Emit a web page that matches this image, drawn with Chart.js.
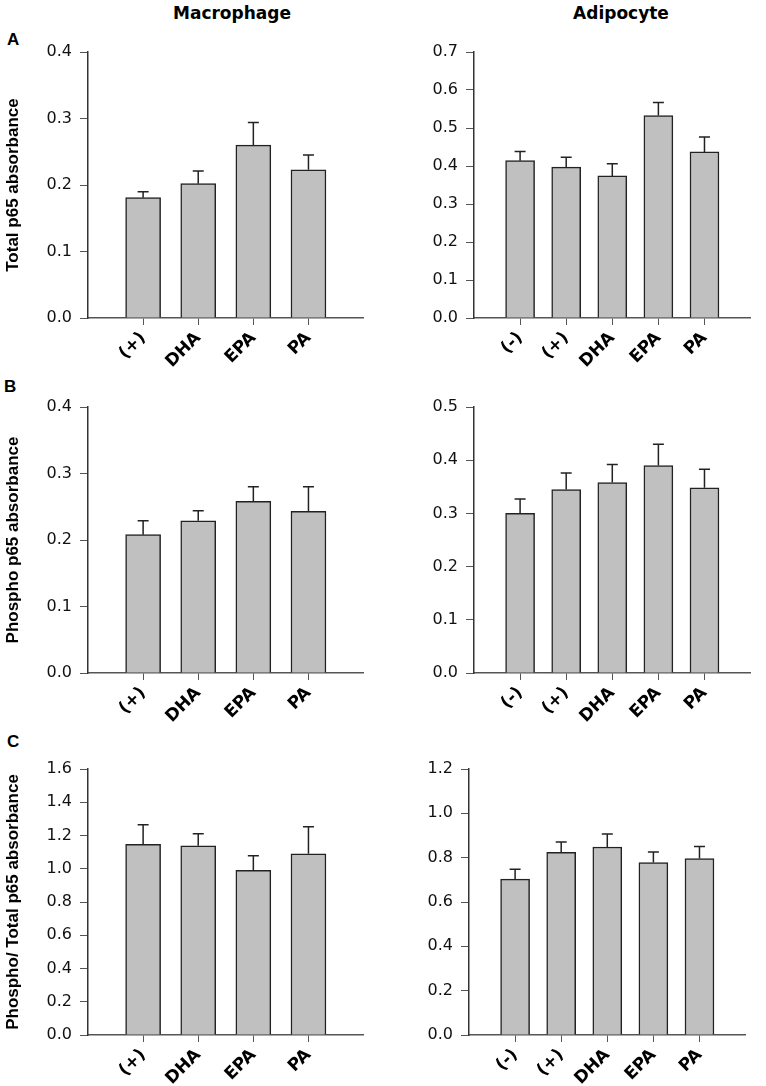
<!DOCTYPE html>
<html>
<head>
<meta charset="utf-8">
<script src="https://cdn.jsdelivr.net/npm/chart.js@4"></script>
<style>
  html, body { margin: 0; padding: 0; background: #fff; overflow: hidden; }
  body { position: relative; width: 766px; height: 1086px; }
  canvas { position: absolute; }
  .lbl { position: absolute; font-weight: bold; line-height: 17px; color: #000; white-space: nowrap; }
  .col { font-family: "DejaVu Sans"; font-size: 17px; width: 300px; text-align: center; }
  .let { font-family: "Liberation Sans"; font-size: 17px; }
</style>
</head>
<body>
<div class="lbl col" style="left:82px;top:5px;">Macrophage</div>
<div class="lbl col" style="left:471px;top:5px;">Adipocyte</div>
<div class="lbl let" style="left:7px;top:31px;">A</div>
<div class="lbl let" style="left:4px;top:378px;">B</div>
<div class="lbl let" style="left:7px;top:733px;">C</div>
<script>
// categories
const macCats = ['(+)', 'DHA', 'EPA', 'PA'];
const adiCats = ['(-)', '(+)', 'DHA', 'EPA', 'PA'];

// A: total p65
const macTotal = [0.181, 0.202, 0.260, 0.223];
const macTotalSem = [0.009, 0.019, 0.034, 0.022];
const adiTotal = [0.414, 0.397, 0.374, 0.533, 0.437];
const adiTotalSem = [0.024, 0.026, 0.032, 0.034, 0.039];

// B: phospho p65
const macPhospho = [0.208, 0.229, 0.258, 0.243];
const macPhosphoSem = [0.021, 0.015, 0.022, 0.037];
const adiPhospho = [0.300, 0.345, 0.358, 0.390, 0.348];
const adiPhosphoSem = [0.027, 0.031, 0.034, 0.040, 0.035];

// C: phospho / total
const macRatio = [1.147, 1.138, 0.990, 1.090];
const macRatioSem = [0.118, 0.072, 0.088, 0.163];
const adiRatio = [0.703, 0.824, 0.848, 0.778, 0.796];
const adiRatioSem = [0.045, 0.047, 0.059, 0.048, 0.054];

// y axis ranges
const yMaxA = [0.4, 0.7], yStepA = [0.1, 0.1];
const yMaxB = [0.4, 0.5], yStepB = [0.1, 0.1];
const yMaxC = [1.6, 1.2], yStepC = [0.2, 0.2];

const errorBars = {
  id: 'errorBars',
  afterDatasetsDraw(chart, args, opts) {
    const ctx = chart.ctx;
    const y = chart.scales.y;
    chart.data.datasets.forEach((ds, di) => {
      const meta = chart.getDatasetMeta(di);
      meta.data.forEach((bar, i) => {
        const m = ds.data[i];
        if (m == null) return;
        const top = y.getPixelForValue(m + ds.sem[i]);
        ctx.save();
        ctx.strokeStyle = '#222';
        ctx.lineWidth = 1.5;
        ctx.beginPath();
        ctx.moveTo(bar.x, bar.y);
        ctx.lineTo(bar.x, top);
        ctx.moveTo(bar.x - opts.cap / 2, top);
        ctx.lineTo(bar.x + opts.cap / 2, top);
        ctx.stroke();
        ctx.restore();
      });
    });
  }
};

function panel(p) {
  const cv = document.createElement('canvas');
  const h = p.bottom - p.top + 20 + 52;
  const w = p.right - p.canvasLeft + 6;
  cv.width = w; cv.height = h;
  cv.style.left = p.canvasLeft + 'px';
  cv.style.top = (p.top - 20) + 'px';
  cv.style.width = w + 'px'; cv.style.height = h + 'px';
  document.body.appendChild(cv);

  const labels = [''].concat(p.cats, ['']);
  new Chart(cv, {
    type: 'bar',
    data: {
      labels: labels,
      datasets: [{
        data: [null].concat(p.values, [null]),
        sem: [null].concat(p.sem, [null]),
        backgroundColor: '#c0c0c0',
        borderColor: '#222',
        borderWidth: 1.5,
        barThickness: p.barW
      }]
    },
    options: {
      responsive: false,
      animation: false,
      devicePixelRatio: 1,
      layout: { padding: { top: 20, right: 6, bottom: 0, left: 0 } },
      plugins: { legend: { display: false }, tooltip: { enabled: false }, errorBars: { cap: 11 } },
      scales: {
        x: {
          type: 'category',
          offset: false,
          grid: {
            offset: false, drawOnChartArea: false, tickLength: 7,
            tickColor: c => (labels[c.index] ? '#555' : 'rgba(0,0,0,0)')
          },
          border: { color: '#555', width: 1.5 },
          ticks: {
            autoSkip: false, minRotation: 45, maxRotation: 45, padding: 3,
            color: '#000', font: { family: 'DejaVu Sans', size: 17, weight: 'bold' }
          },
          afterFit: s => { s.height = 52; }
        },
        y: {
          min: 0, max: p.max,
          ticks: {
            stepSize: p.step, padding: 8, color: '#111',
            font: { family: 'DejaVu Sans', size: 16 },
            callback: v => v.toFixed(1)
          },
          grid: { drawOnChartArea: false, tickLength: 8, tickColor: '#555' },
          border: { color: '#333', width: 1.5 },
          title: {
            display: !!p.yTitle, text: p.yTitle || '', color: '#000',
            font: { family: 'Liberation Sans', size: 17, weight: 'bold' },
            padding: { top: 3, bottom: 0 }
          },
          afterFit: s => { s.width = p.axisX - p.canvasLeft; }
        }
      }
    },
    plugins: [errorBars]
  });
}

panel({ cats: macCats, values: macTotal, sem: macTotalSem, max: yMaxA[0], step: yStepA[0],
  yTitle: 'Total p65 absorbance', canvasLeft: 0, axisX: 88, right: 375, top: 52, bottom: 318, barW: 35 });
panel({ cats: adiCats, values: adiTotal, sem: adiTotalSem, max: yMaxA[1], step: yStepA[1],
  canvasLeft: 395, axisX: 474, right: 762, top: 52, bottom: 318, barW: 29 });

panel({ cats: macCats, values: macPhospho, sem: macPhosphoSem, max: yMaxB[0], step: yStepB[0],
  yTitle: 'Phospho p65 absorbance', canvasLeft: 0, axisX: 88, right: 375, top: 407, bottom: 673, barW: 35 });
panel({ cats: adiCats, values: adiPhospho, sem: adiPhosphoSem, max: yMaxB[1], step: yStepB[1],
  canvasLeft: 395, axisX: 474, right: 762, top: 407, bottom: 673, barW: 29 });

panel({ cats: macCats, values: macRatio, sem: macRatioSem, max: yMaxC[0], step: yStepC[0],
  yTitle: 'Phospho/ Total p65 absorbance', canvasLeft: 0, axisX: 88, right: 375, top: 769, bottom: 1035, barW: 35 });
panel({ cats: adiCats, values: adiRatio, sem: adiRatioSem, max: yMaxC[1], step: yStepC[1],
  canvasLeft: 395, axisX: 469, right: 757, top: 769, bottom: 1035, barW: 29 });
</script>
</body>
</html>
